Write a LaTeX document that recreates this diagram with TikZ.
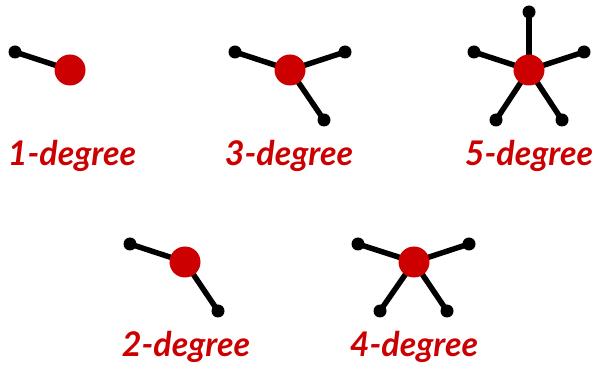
\documentclass[tikz,border=0pt]{standalone}
\usepackage{fontspec}
\setmainfont{Lato}
\usetikzlibrary{backgrounds}
\definecolor{hubred}{HTML}{CC0000}
\begin{document}
\begin{tikzpicture}[x=1pt,y=-1pt,line cap=round,line join=round,
  hub/.style={circle,fill=hubred,inner sep=0pt,minimum size=31pt},
  leaf/.style={circle,fill=black,inner sep=0pt,minimum size=13pt},
  edge/.style={line width=5.5pt},
  degname/.style={anchor=base,text=hubred,font=\fontsize{34}{40}\selectfont\bfseries\itshape}]
  \useasboundingbox (0,0) rectangle (595,366);
  % 1-degree
  \node[hub] (h1) at (70,70) {};
  \node[leaf] (h1a) at (15,52) {};
  \node[degname] (t1) at (72,166) {1-degree};
  % 3-degree
  \node[hub] (h3) at (290,70) {};
  \node[leaf] (h3a) at (235,52) {};
  \node[leaf] (h3b) at (345,52) {};
  \node[leaf] (h3c) at (324,120) {};
  \node[degname] (t3) at (289,166) {3-degree};
  % 5-degree
  \node[hub] (h5) at (529,70) {};
  \node[leaf] (h5a) at (529,12) {};
  \node[leaf] (h5b) at (474,52) {};
  \node[leaf] (h5c) at (584,52) {};
  \node[leaf] (h5d) at (496,120) {};
  \node[leaf] (h5e) at (562,120) {};
  \node[degname] (t5) at (529,166) {5-degree};
  % 2-degree
  \node[hub] (h2) at (185,262) {};
  \node[leaf] (h2a) at (130,244) {};
  \node[leaf] (h2b) at (218,311) {};
  \node[degname] (t2) at (186,356) {2-degree};
  % 4-degree
  \node[hub] (h4) at (414,262) {};
  \node[leaf] (h4a) at (358,244) {};
  \node[leaf] (h4b) at (469,244) {};
  \node[leaf] (h4c) at (380,311) {};
  \node[leaf] (h4d) at (447,311) {};
  \node[degname] (t4) at (414,356) {4-degree};
  \begin{scope}[on background layer]
    \draw[edge] (h1.center) -- (h1a.center);
    \draw[edge] (h3.center) -- (h3a.center);
    \draw[edge] (h3.center) -- (h3b.center);
    \draw[edge] (h3.center) -- (h3c.center);
    \draw[edge] (h5.center) -- (h5a.center);
    \draw[edge] (h5.center) -- (h5b.center);
    \draw[edge] (h5.center) -- (h5c.center);
    \draw[edge] (h5.center) -- (h5d.center);
    \draw[edge] (h5.center) -- (h5e.center);
    \draw[edge] (h2.center) -- (h2a.center);
    \draw[edge] (h2.center) -- (h2b.center);
    \draw[edge] (h4.center) -- (h4a.center);
    \draw[edge] (h4.center) -- (h4b.center);
    \draw[edge] (h4.center) -- (h4c.center);
    \draw[edge] (h4.center) -- (h4d.center);
  \end{scope}
\end{tikzpicture}
\end{document}
